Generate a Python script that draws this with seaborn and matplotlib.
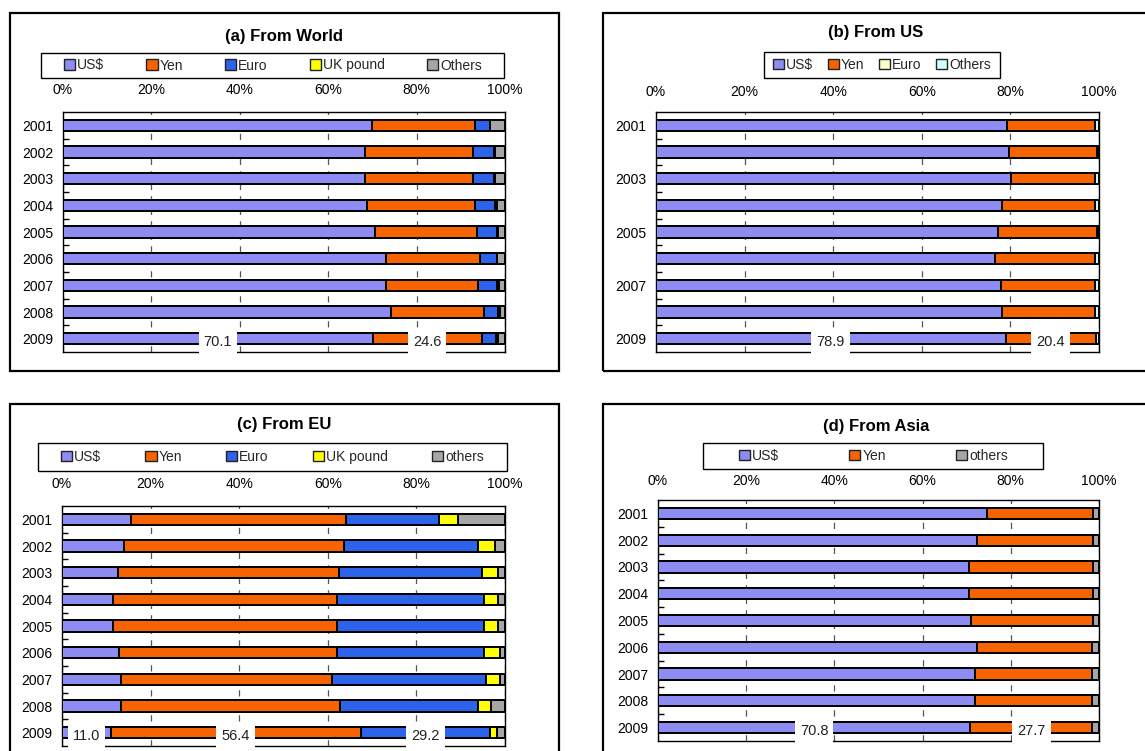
import matplotlib
matplotlib.use("Agg")
import matplotlib.pyplot as plt
import seaborn as sns
import pandas as pd
from matplotlib.patches import Rectangle, Patch

# ---------------------------------------------------------------- data
years = ["2001", "2002", "2003", "2004", "2005", "2006", "2007", "2008", "2009"]

# (a) From World, shares in %
world_usd = [69.9, 68.3, 68.3, 68.7, 70.7, 73.1, 73.1, 74.3, 70.1]
world_yen = [23.2, 24.5, 24.5, 24.5, 22.9, 21.3, 20.8, 20.9, 24.6]
world_euro = [3.4, 4.8, 4.8, 4.5, 4.5, 3.7, 4.2, 3.3, 3.3]
world_ukp = [0.0, 0.1, 0.1, 0.5, 0.3, 0.2, 0.5, 0.3, 0.4]
world_oth = [3.5, 2.3, 2.3, 1.8, 1.6, 1.7, 1.4, 1.2, 1.6]

# (b) From US
us_usd = [79.3, 79.7, 80.2, 78.2, 77.1, 76.6, 77.9, 78.2, 78.9]
us_yen = [19.8, 19.8, 18.9, 20.9, 22.4, 22.5, 21.2, 20.9, 20.4]
us_euro = [0.1, 0.1, 0.1, 0.1, 0.1, 0.1, 0.1, 0.1, 0.1]
us_oth = [0.8, 0.4, 0.8, 0.8, 0.4, 0.8, 0.8, 0.8, 0.6]

# (c) From EU
eu_usd = [15.6, 14.0, 12.6, 11.6, 11.6, 12.8, 13.3, 13.3, 11.0]
eu_yen = [48.5, 49.7, 49.9, 50.5, 50.5, 49.3, 47.6, 49.5, 56.4]
eu_euro = [21.0, 30.1, 32.4, 33.1, 33.1, 33.1, 34.7, 31.2, 29.2]
eu_ukp = [4.3, 3.9, 3.5, 3.2, 3.2, 3.6, 3.2, 2.9, 1.5]
eu_oth = [10.6, 2.3, 1.6, 1.6, 1.6, 1.2, 1.2, 3.1, 1.9]

# (d) From Asia
asia_usd = [74.6, 72.3, 70.6, 70.6, 71.0, 72.3, 71.9, 71.9, 70.8]
asia_yen = [24.1, 26.4, 28.1, 28.1, 27.7, 26.0, 26.4, 26.4, 27.7]
asia_oth = [1.3, 1.3, 1.3, 1.3, 1.3, 1.7, 1.7, 1.7, 1.5]

pct_ticks = [0, 20, 40, 60, 80, 100]
pct_labels = ["0%", "20%", "40%", "60%", "80%", "100%"]

# ---------------------------------------------------------------- style
C_USD = "#8c8cf2"
C_YEN = "#f56400"
C_EURO = "#2d62ea"
C_UKP = "#ffff00"
C_OTH = "#a6a6a6"
C_EURO_LIGHT = "#ffffcc"
C_OTH_CYAN = "#ccffff"

sns.set_theme(style="white")
plt.rcParams["font.family"] = ["Liberation Sans", "DejaVu Sans"]

W, H = 1145, 751
fig = plt.figure(figsize=(W / 100, H / 100), dpi=100)
fig.patch.set_facecolor("white")


def fx(x):
    return x / W


def fy(y):
    return 1 - y / H


def box(x0, y0, x1, y1, lw):
    fig.add_artist(Rectangle((fx(x0), fy(y1)), fx(x1) - fx(x0), fy(y0) - fy(y1),
                             transform=fig.transFigure, fill=False,
                             edgecolor="black", linewidth=lw, zorder=0))


def panel(ax_px, title, title_xy, names, series, colors, legend_box, legend_span,
          labelled, ytick_every=1, tick_pad=11):
    x0, y0, x1, y1 = ax_px
    ax = fig.add_axes([fx(x0), fy(y1), fx(x1) - fx(x0), fy(y0) - fy(y1)])

    # stacked bars: cumulative totals drawn from the outermost segment inwards
    cum = []
    running = [0.0] * len(years)
    for s in series:
        running = [r + v for r, v in zip(running, s)]
        cum.append(list(running))
    for k in range(len(series) - 1, -1, -1):
        df = pd.DataFrame({"year": years, "share": cum[k]})
        sns.barplot(data=df, x="share", y="year", order=years, orient="h",
                    color=colors[k], saturation=1, edgecolor="black",
                    linewidth=1.4, width=0.42, ax=ax, zorder=3)

    ax.set_xlim(0, 100)
    ax.set_ylim(len(years) - 0.5, -0.5)
    ax.set_xlabel("")
    ax.set_ylabel("")

    ax.xaxis.tick_top()
    ax.set_xticks(pct_ticks)
    ax.set_xticklabels(pct_labels)
    ax.tick_params(axis="x", length=0, pad=tick_pad, labelsize=10, colors="black")
    ax.xaxis.grid(True, linestyle=(0, (5, 5)), color="#555555", linewidth=0.9)
    ax.yaxis.grid(False)
    ax.set_axisbelow(True)

    ax.set_yticks(range(len(years)))
    ax.set_yticklabels([y if i % ytick_every == 0 else "" for i, y in enumerate(years)])
    ax.tick_params(axis="y", length=0, pad=7, labelsize=10, colors="black")
    ax.set_yticks([i + 0.5 for i in range(len(years) - 1)], minor=True)
    ax.tick_params(axis="y", which="minor", direction="in", length=4,
                   width=1, color="black", left=True)

    for sp in ax.spines.values():
        sp.set_visible(True)
        sp.set_color("black")
        sp.set_linewidth(1.0)

    # value labels on the last year
    last = len(years) - 1
    start = 0.0
    for k, s in enumerate(series):
        v = s[last]
        if k in labelled:
            ax.text(start + v / 2, last + 0.12, f"{v:.1f}", ha="center",
                    va="center", fontsize=10.5, color="#222222", zorder=10,
                    clip_on=False,
                    bbox=dict(facecolor="white", edgecolor="none",
                              boxstyle="square,pad=0.35"))
        start += v

    # legend: frame drawn as its own box, entries spread across an inner span
    bx0, by0, bx1, by1 = legend_box
    box(bx0, by0, bx1, by1, 1.0)
    sx0, sx1 = legend_span
    handles = [Patch(facecolor=c, edgecolor="#222222", linewidth=1.0, label=n)
               for n, c in zip(names, colors)]
    ax.legend(handles=handles, loc="center", ncol=len(handles),
              bbox_to_anchor=(fx(sx0), fy(by1), fx(sx1) - fx(sx0), fy(by0) - fy(by1)),
              bbox_transform=fig.transFigure, mode="expand", frameon=False,
              handlelength=0.8, handleheight=0.8, handletextpad=0.15,
              borderaxespad=0, borderpad=0.3, fontsize=10)

    fig.text(fx(title_xy[0]), fy(title_xy[1]), title, ha="center", va="center",
             fontsize=12, fontweight="bold", color="black")
    return ax


# outer frames
box(10, 13, 559, 371, 1.6)
box(603, 13, 1170, 371, 1.6)
box(10, 404, 559, 770, 1.6)
box(603, 404, 1170, 770, 1.6)

panel((63, 112, 505, 352), "(a) From World", (284, 36),
      ["US$", "Yen", "Euro", "UK pound", "Others"],
      [world_usd, world_yen, world_euro, world_ukp, world_oth],
      [C_USD, C_YEN, C_EURO, C_UKP, C_OTH],
      (41, 53, 504, 78), (60, 486), labelled={0, 1}, tick_pad=11)

panel((656, 112, 1099, 352), "(b) From US", (876, 33),
      ["US$", "Yen", "Euro", "Others"],
      [us_usd, us_yen, us_euro, us_oth],
      [C_USD, C_YEN, C_EURO_LIGHT, C_OTH_CYAN],
      (764, 52, 1000, 78), (769, 995), labelled={0, 1}, ytick_every=2, tick_pad=9.5)

panel((62, 506, 505, 746), "(c) From EU", (284, 425),
      ["US$", "Yen", "Euro", "UK pound", "others"],
      [eu_usd, eu_yen, eu_euro, eu_ukp, eu_oth],
      [C_USD, C_YEN, C_EURO, C_UKP, C_OTH],
      (38, 443, 507, 471), (57, 488), labelled={0, 1, 2}, tick_pad=11)

panel((658, 500, 1099, 741), "(d) From Asia", (876, 427),
      ["US$", "Yen", "others"],
      [asia_usd, asia_yen, asia_oth],
      [C_USD, C_YEN, C_OTH],
      (703, 443, 1043, 469), (735, 1012), labelled={0, 1}, tick_pad=8.7)

fig.savefig("out.png", dpi=100, facecolor="white")
